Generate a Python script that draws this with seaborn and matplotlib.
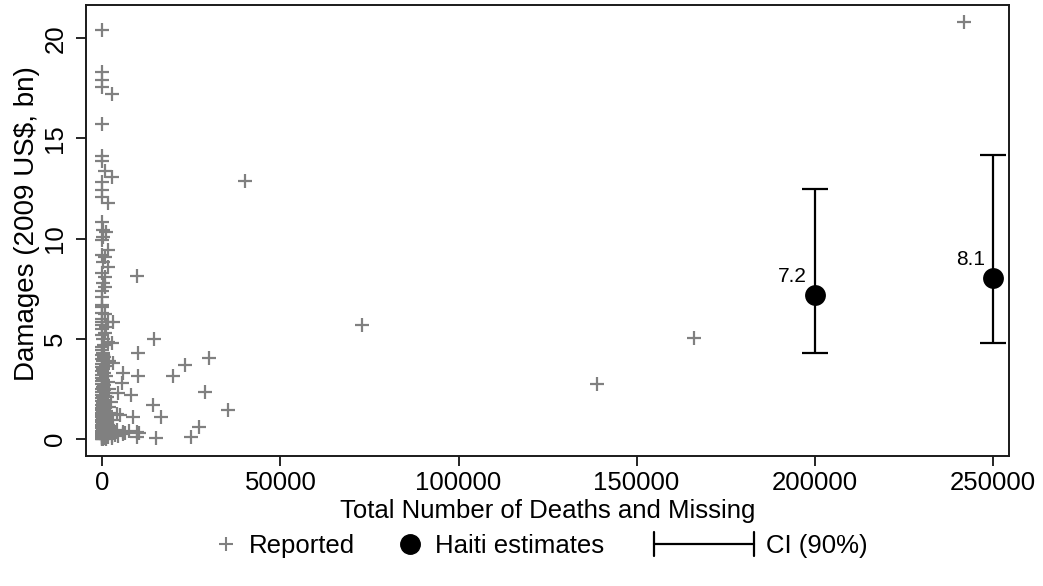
import matplotlib
matplotlib.use("Agg")
import matplotlib.pyplot as plt
import seaborn as sns
import pandas as pd
from matplotlib.lines import Line2D
from matplotlib.legend_handler import HandlerBase

# reported disasters: deaths+missing vs damages (bn 2009 US$)
reported_deaths = [
    0, 0, 0, 0, 2800, 0,
    0, 0, 750, 2600, 0, 0, 0, 1700,
    0, 300, 900, 300, 0, 1700, 0, 700, 300, 1700, 0, 9650, 700, 300, 700, 0, 0, 0,
    0, 0, 700, 0, 1700, 3100, 0, 700, 1700, 2600, 0, 300, 3100,
    40000, 73000, 139000, 166000, 242000,
    14600, 10100, 30000, 23100, 19900, 9900, 5900, 5400, 28800, 8100, 4500,
    14300, 35400, 16400, 8500, 4000, 27000, 24900, 15200, 9800, 9800, 5900,
    5900, 4500, 5000, 3000, 4200, 6500, 7500, 10300,
    0, 200, 0, 500, 0, 1000, 0, 300, 0, 1500, 0, 600, 100, 0, 2000, 400, 0,
    900, 0, 200, 1300, 0, 500, 0, 2500, 100, 800, 0, 300, 1800, 0, 600, 0,
    1100, 200, 0, 2200, 400, 0, 700, 0, 1400, 100, 0, 3000, 500, 0, 900, 200,
    0, 1600, 0, 400, 2400, 0, 700, 100, 0, 1200, 300, 0, 2000, 500, 0, 800,
    100, 0, 1500, 300, 0, 600, 0, 200, 1000, 2800, 3500, 0, 400, 3800, 2600,
    0, 200, 0, 600, 0, 1000, 2000, 0, 300, 0, 900, 0, 0, 500,
]
reported_damages = [
    20.4, 18.3, 17.9, 17.55, 17.2, 15.7,
    14.1, 13.85, 13.4, 13.1, 12.85, 12.45, 12.1, 11.8,
    10.85, 10.45, 10.35, 10.1, 9.93, 9.45, 9.2, 9.1, 8.85, 8.6, 8.3, 8.15, 8.1, 7.77, 7.6, 7.4, 7.1, 6.7,
    6.6, 6.3, 6.25, 5.85, 5.85, 5.85, 5.5, 5.3, 4.85, 4.8, 4.45, 4.3, 3.8,
    12.9, 5.7, 2.75, 5.05, 20.8,
    5.0, 4.3, 4.05, 3.68, 3.15, 3.15, 3.3, 2.78, 2.36, 2.2, 2.28,
    1.7, 1.47, 1.11, 1.11, 1.25, 0.58, 0.12, 0.03, 0.37, 0.12, 0.35,
    0.25, 0.15, 1.2, 0.3, 0.45, 0.3, 0.4, 0.3,
    3.6, 3.5, 3.4, 3.3, 3.2, 3.15, 3.05, 2.95, 2.9, 2.85, 2.75, 2.7, 2.6, 2.5, 2.5, 2.45, 2.35,
    2.3, 2.2, 2.15, 2.1, 2.05, 1.95, 1.9, 1.85, 1.8, 1.75, 1.7, 1.65, 1.6, 1.55, 1.5, 1.45,
    1.4, 1.35, 1.3, 1.3, 1.25, 1.2, 1.15, 1.1, 1.05, 1.0, 0.95, 0.95, 0.9, 0.85, 0.8, 0.75,
    0.7, 0.7, 0.65, 0.6, 0.6, 0.55, 0.5, 0.45, 0.4, 0.4, 0.35, 0.3, 0.3, 0.25, 0.2, 0.2,
    0.15, 0.1, 0.1, 0.08, 0.05, 0.03, 0.0, 0.0, 0.0, 0.05, 0.2, 0.02, 0.12, 0.35, 0.15,
    4.0, 3.9, 3.75, 4.1, 4.2, 3.65, 3.9, 4.6, 5.0, 5.2, 5.6, 5.7, 6.0, 4.7,
]

# Haiti estimates with 90% confidence interval
haiti_deaths = [200000, 250000]
haiti_damages = [7.2, 8.05]
haiti_ci_low = [4.3, 4.8]
haiti_ci_high = [12.47, 14.17]
haiti_labels = ["7.2", "8.1"]

xticks = [0, 50000, 100000, 150000, 200000, 250000]
yticks = [0, 5, 10, 15, 20]

sns.set_style("ticks")
plt.rcParams["font.family"] = ["Liberation Sans", "DejaVu Sans"]
plt.rcParams["text.color"] = "black"
plt.rcParams["axes.labelcolor"] = "black"
plt.rcParams["xtick.color"] = "black"
plt.rcParams["ytick.color"] = "black"

reported = pd.DataFrame({"deaths": reported_deaths, "damages": reported_damages})
haiti = pd.DataFrame({"deaths": haiti_deaths, "damages": haiti_damages})

fig = plt.figure(figsize=(10.43, 5.86), dpi=100)
ax = fig.add_axes([0.0822, 0.2218, 0.8855, 0.770])

sns.scatterplot(
    data=reported, x="deaths", y="damages", marker="+", color="#808080",
    s=100, linewidth=1.6, ax=ax, legend=False, zorder=2,
)
err_low = [d - lo for d, lo in zip(haiti_damages, haiti_ci_low)]
err_high = [hi - d for d, hi in zip(haiti_damages, haiti_ci_high)]
ax.errorbar(
    haiti_deaths, haiti_damages, yerr=[err_low, err_high], fmt="none",
    ecolor="black", elinewidth=1.6, capsize=9.5, capthick=1.6, zorder=3,
)
sns.scatterplot(
    data=haiti, x="deaths", y="damages", color="black", s=225,
    edgecolor="black", linewidth=0, ax=ax, legend=False, zorder=4,
)
for x, y, lab in zip(haiti_deaths, haiti_damages, haiti_labels):
    ax.annotate(lab, (x, y), xytext=(-5.5, 9), textcoords="offset points",
                ha="right", va="baseline", fontsize=15)

ax.set_xlim(-4660, 254630)
ax.set_ylim(-0.85, 21.67)
ax.set_xticks(xticks)
ax.set_yticks(yticks)
ax.tick_params(axis="both", direction="out", length=7.2, width=1.2,
               color="black", labelcolor="black", labelsize=18.5)
ax.tick_params(axis="x", pad=3.5)
ax.tick_params(axis="y", pad=6)
for t in ax.get_yticklabels():
    t.set_rotation(90)
    t.set_va("center")
for sp in ax.spines.values():
    sp.set_visible(True)
    sp.set_color("#1a1a1a")
    sp.set_linewidth(1.4)

ax.set_xlabel("Total Number of Deaths and Missing", fontsize=18.5)
ax.set_ylabel("Damages (2009 US$, bn)", fontsize=20)
ax.xaxis.set_label_coords(0.5, -0.122)
ax.yaxis.set_label_coords(-0.0636, 0.515)
ax.xaxis.label.set_va("center")
ax.yaxis.label.set_va("center")


class HandlerCI(HandlerBase):
    def create_artists(self, legend, orig_handle, xdescent, ydescent,
                       width, height, fontsize, trans):
        y = 0.5 * height - ydescent
        x0, x1 = -xdescent, width - xdescent
        h = 8.5
        arts = [
            Line2D([x0, x1], [y, y], color="black", lw=1.6),
            Line2D([x0, x0], [y - h, y + h], color="black", lw=1.6),
            Line2D([x1, x1], [y - h, y + h], color="black", lw=1.6),
        ]
        for a in arts:
            a.set_transform(trans)
        return arts


h_rep = Line2D([], [], marker="+", color="#808080", ls="none", ms=9.5, mew=1.5)
h_hai = Line2D([], [], marker="o", color="black", ls="none", ms=14)
h_ci = Line2D([], [], color="black")

leg_y = 1 - 546 / 586
common = dict(loc="center left", frameon=False, fontsize=18.5, borderpad=0,
              borderaxespad=0, numpoints=1, labelcolor="black")
fig.legend([h_rep], ["Reported"], bbox_to_anchor=(215.5 / 1043, leg_y),
           handlelength=0.8, handletextpad=0.5, **common)
fig.legend([h_hai], ["Haiti estimates"], bbox_to_anchor=(396.8 / 1043, leg_y),
           handlelength=1.0, handletextpad=0.5, **common)
fig.legend([h_ci], ["CI (90%)"], bbox_to_anchor=(654 / 1043, leg_y),
           handlelength=3.9, handletextpad=0.45,
           handler_map={h_ci: HandlerCI()}, **common)

fig.savefig("out.png", dpi=100)
